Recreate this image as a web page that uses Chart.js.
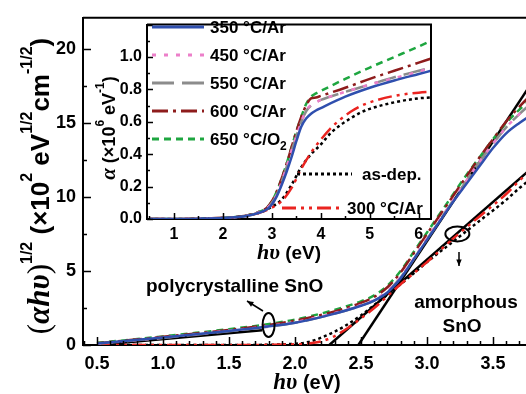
<!DOCTYPE html>
<html>
<head>
<meta charset="utf-8">
<script src="https://cdn.jsdelivr.net/npm/chart.js@4.4.1/dist/chart.umd.min.js"></script>
<style>
  body { margin: 0; background: #fff; }
  #wrap { position: relative; width: 526px; height: 394px; overflow: hidden; }
  #inset { position: absolute; left: 88px; top: 10px; }
</style>
</head>
<body>
<div id="wrap">
  <canvas id="mainChart" width="526" height="394"></canvas>
  <canvas id="inset" width="350" height="260"></canvas>
</div>
<script>
// ---- main plot: (alpha*h*nu)^1/2 vs photon energy ----
const mainE = [0.5, 0.75, 1.0, 1.25, 1.5, 1.75, 2.0, 2.25, 2.5, 2.6, 2.7, 2.8, 2.9, 3.0, 3.1, 3.2, 3.3, 3.4, 3.5, 3.6, 3.7, 3.8];
const main350 = [0.1, 0.3, 0.5, 0.72, 0.95, 1.2, 1.5, 2.0, 2.65, 3.0, 3.55, 4.5, 5.8, 7.1, 8.4, 9.7, 10.9, 12.1, 13.3, 14.3, 15.0, 15.6];
const main450 = [0.1, 0.3, 0.5, 0.73, 0.97, 1.22, 1.55, 2.05, 2.7, 3.05, 3.65, 4.6, 5.85, 7.2, 8.5, 9.8, 11.1, 12.4, 13.6, 14.7, 15.6, 16.3];
const main550 = [0.08, 0.28, 0.48, 0.7, 0.93, 1.18, 1.5, 2.0, 2.65, 3.0, 3.6, 4.55, 5.8, 7.15, 8.45, 9.8, 11.1, 12.4, 13.6, 14.7, 15.6, 16.4];
const main600 = [0.12, 0.33, 0.55, 0.78, 1.02, 1.3, 1.65, 2.15, 2.85, 3.25, 3.9, 4.9, 6.2, 7.5, 8.8, 10.1, 11.4, 12.7, 13.9, 15.1, 16.1, 17.0];
const main650 = [0.15, 0.35, 0.58, 0.82, 1.07, 1.35, 1.72, 2.25, 2.95, 3.35, 4.0, 5.0, 6.3, 7.6, 8.9, 10.2, 11.5, 12.7, 13.9, 15.0, 15.9, 16.7];

const amorphE = [0.5, 1.0, 1.5, 2.0, 2.1, 2.2, 2.3, 2.4, 2.5, 2.6, 2.7, 2.8, 2.9, 3.0, 3.2, 3.4, 3.6, 3.7, 3.8];
const main300 = [0, 0, 0, 0.05, 0.1, 0.25, 0.6, 1.15, 1.8, 2.5, 3.3, 4.1, 4.85, 5.6, 7.2, 8.7, 10.2, 11.1, 11.9];
const mainAsDep = [0, 0, 0, 0.08, 0.2, 0.5, 0.9, 1.4, 2.0, 2.7, 3.4, 4.1, 4.85, 5.6, 7.0, 8.4, 9.8, 10.6, 11.3];

// straight tangent lines (two end points each)
const fitPolyE = [0.5, 1.75], fitPolyV = [0, 1.0];
const fitSteepE = [2.48, 3.8], fitSteepV = [0, 17.8];
const fitAmorphE = [2.26, 3.8], fitAmorphV = [0, 12.0];

const mainXTicks = [0.5, 1.0, 1.5, 2.0, 2.5, 3.0, 3.5];
const mainYTicks = [0, 5, 10, 15, 20];

// ---- inset: alpha vs photon energy ----
const insE = [0.5, 1.0, 1.5, 2.0, 2.3, 2.5, 2.7, 2.9, 3.0, 3.1, 3.2, 3.3, 3.4, 3.5, 3.6, 3.7, 3.8, 3.9, 4.0, 4.5, 5.0, 5.5, 6.0, 6.25];
const ins350 = [0, 0, 0.002, 0.006, 0.012, 0.02, 0.035, 0.06, 0.09, 0.14, 0.21, 0.29, 0.38, 0.48, 0.57, 0.62, 0.65, 0.67, 0.685, 0.755, 0.81, 0.855, 0.895, 0.915];
const ins450 = [0, 0, 0.002, 0.006, 0.012, 0.02, 0.036, 0.065, 0.1, 0.15, 0.23, 0.32, 0.42, 0.51, 0.6, 0.67, 0.705, 0.72, 0.735, 0.785, 0.83, 0.87, 0.91, 0.935];
const ins550 = [0, 0, 0.002, 0.006, 0.012, 0.02, 0.036, 0.065, 0.1, 0.15, 0.23, 0.32, 0.42, 0.51, 0.6, 0.665, 0.7, 0.72, 0.735, 0.785, 0.83, 0.875, 0.915, 0.935];
const ins600 = [0, 0, 0.002, 0.007, 0.014, 0.022, 0.04, 0.07, 0.11, 0.17, 0.25, 0.34, 0.44, 0.54, 0.63, 0.7, 0.745, 0.75, 0.76, 0.81, 0.865, 0.915, 0.965, 0.99];
const ins650 = [0, 0, 0.002, 0.007, 0.014, 0.022, 0.04, 0.07, 0.11, 0.17, 0.25, 0.34, 0.44, 0.54, 0.63, 0.71, 0.755, 0.775, 0.79, 0.865, 0.935, 1.0, 1.065, 1.1];

const insAmE = [0.5, 1.0, 1.5, 2.0, 2.5, 2.8, 3.0, 3.2, 3.4, 3.6, 3.8, 4.0, 4.2, 4.4, 4.6, 4.8, 5.0, 5.5, 6.0, 6.25];
const ins300 = [0, 0, 0.002, 0.006, 0.02, 0.045, 0.07, 0.11, 0.19, 0.31, 0.41, 0.49, 0.56, 0.615, 0.66, 0.695, 0.72, 0.76, 0.78, 0.785];
const insAsDep = [0, 0, 0.002, 0.006, 0.02, 0.045, 0.075, 0.12, 0.21, 0.32, 0.40, 0.46, 0.53, 0.58, 0.62, 0.655, 0.68, 0.72, 0.745, 0.75];

const insXTicks = [1, 2, 3, 4, 5, 6];
const insYTicks = [0, 0.2, 0.4, 0.6, 0.8, 1.0];

// series styles
const series = {
  s350: { label: '350 °C/Ar', color: '#2f4fae', dash: [] },
  s450: { label: '450 °C/Ar', color: '#ec7fc9', dash: [4, 8] },
  s550: { label: '550 °C/Ar', color: '#8c8c8c', dash: [22, 8] },
  s600: { label: '600 °C/Ar', color: '#8e1c1c', dash: [16, 5, 3, 5] },
  s650: { label: '650 °C/O2', color: '#1ea640', dash: [7, 5] },
  asdep: { label: 'as-dep.', color: '#000000', dash: [3, 3] },
  s300: { label: '300 °C/Ar', color: '#ea2420', dash: [14, 5, 3, 5, 3, 5] },
};

const SANS = '"Liberation Sans", Arial, sans-serif';
const SERIF = '"Liberation Serif", "Times New Roman", serif';

function pts(xs, ys) {
  return xs.map((x, i) => ({ x: x, y: ys[i] }));
}

function curve(key, xs, ys, width) {
  const s = series[key];
  return {
    label: s.label,
    data: pts(xs, ys),
    borderColor: s.color,
    borderDash: s.dash,
    borderWidth: width,
    pointRadius: 0,
    fill: false,
    cubicInterpolationMode: 'monotone',
  };
}

function fitLine(xs, ys) {
  return { label: 'fit', data: pts(xs, ys), borderColor: '#000', borderWidth: 2.5, pointRadius: 0, fill: false };
}

// draw inward major/minor ticks along the bottom and left axes
function drawTicks(chart, xStep, yStep, xMinor, yMinor, majLen, minLen) {
  const { ctx, chartArea: a, scales: { x, y } } = chart;
  ctx.save();
  ctx.strokeStyle = '#000';
  ctx.lineWidth = 1.5;
  ctx.beginPath();
  for (let v = Math.ceil(x.min / xMinor - 1e-6) * xMinor; v <= x.max + 1e-6; v += xMinor) {
    const px = Math.round(x.getPixelForValue(v)) + 0.5;
    const isMaj = Math.abs(v / xStep - Math.round(v / xStep)) < 1e-6;
    ctx.moveTo(px, a.bottom);
    ctx.lineTo(px, a.bottom - (isMaj ? majLen : minLen));
  }
  for (let v = Math.ceil(y.min / yMinor - 1e-6) * yMinor; v <= y.max + 1e-6; v += yMinor) {
    const py = Math.round(y.getPixelForValue(v)) + 0.5;
    const isMaj = Math.abs(v / yStep - Math.round(v / yStep)) < 1e-6;
    ctx.moveTo(a.left, py);
    ctx.lineTo(a.left + (isMaj ? majLen : minLen), py);
  }
  ctx.stroke();
  ctx.restore();
}

// rich text: list of [text, font, dy]
function richWidth(ctx, parts) {
  let w = 0;
  parts.forEach(p => { ctx.font = p[1]; w += ctx.measureText(p[0]).width; });
  return w;
}
function drawRich(ctx, parts, x, y) {
  let cx = x;
  ctx.textBaseline = 'alphabetic';
  ctx.textAlign = 'left';
  parts.forEach(p => {
    ctx.font = p[1];
    ctx.fillText(p[0], cx, y + (p[2] || 0));
    cx += ctx.measureText(p[0]).width;
  });
}
function drawRichCentered(ctx, parts, cx, y) {
  drawRich(ctx, parts, cx - richWidth(ctx, parts) / 2, y);
}

const mainDecor = {
  id: 'mainDecor',
  afterDraw(chart) {
    const { ctx, chartArea: a, scales: { x, y } } = chart;
    drawTicks(chart, 0.5, 5, 0.1, 2.5, 8, 4);
    ctx.save();
    ctx.fillStyle = '#000';
    ctx.strokeStyle = '#000';
    // top frame line
    ctx.lineWidth = 2;
    ctx.beginPath();
    ctx.moveTo(a.left, a.top);
    ctx.lineTo(a.right, a.top);
    ctx.stroke();

    // ellipses marking the two regions
    ctx.lineWidth = 2;
    ctx.beginPath();
    ctx.ellipse(x.getPixelForValue(1.8), y.getPixelForValue(1.35), 6, 12, 0, 0, Math.PI * 2);
    ctx.stroke();
    ctx.beginPath();
    ctx.ellipse(x.getPixelForValue(3.23), y.getPixelForValue(7.5), 12, 7.5, 0, 0, Math.PI * 2);
    ctx.stroke();

    // arrows
    function arrow(x0, y0, x1, y1) {
      ctx.lineWidth = 1.5;
      ctx.beginPath();
      ctx.moveTo(x0, y0);
      ctx.lineTo(x1, y1);
      ctx.stroke();
      const ang = Math.atan2(y1 - y0, x1 - x0);
      ctx.beginPath();
      ctx.moveTo(x1, y1);
      ctx.lineTo(x1 - 7 * Math.cos(ang - 0.4), y1 - 7 * Math.sin(ang - 0.4));
      ctx.lineTo(x1 - 7 * Math.cos(ang + 0.4), y1 - 7 * Math.sin(ang + 0.4));
      ctx.closePath();
      ctx.fill();
    }
    arrow(263, 311, 247, 301);
    arrow(459, 252, 459, 266);

    // annotations
    ctx.font = 'bold 19px ' + SANS;
    ctx.textAlign = 'left';
    ctx.textBaseline = 'alphabetic';
    ctx.fillText('polycrystalline SnO', 146, 292);
    ctx.textAlign = 'center';
    ctx.fillText('amorphous', 466, 308);
    ctx.fillText('SnO', 462, 332);

    // x title
    drawRichCentered(ctx, [
      ['h', 'italic bold 23px ' + SERIF],
      ['υ', 'italic bold 23px ' + SERIF],
      [' (eV)', 'bold 20px ' + SANS],
    ], 307, 389);

    // y title, rotated
    ctx.save();
    ctx.translate(49, 186);
    ctx.rotate(-Math.PI / 2);
    const sup = 'bold 16px ' + SANS;
    const big = 'bold 26px ' + SANS;
    drawRichCentered(ctx, [
      ['(', '31px ' + SERIF],
      ['αhυ', 'italic bold 31px ' + SERIF],
      [')', '31px ' + SERIF],
      ['1/2', sup, -17],
      [' (×10', big],
      ['2', sup, -17],
      [' eV', big],
      ['1/2', sup, -17],
      ['cm', big],
      ['-1/2', sup, -17],
      [')', big],
    ], 0, 0);
    ctx.restore();
    ctx.restore();
  }
};

const mainCtx = document.getElementById('mainChart').getContext('2d');
const mainChart = new Chart(mainCtx, {
  type: 'line',
  data: {
    datasets: [
      curve('s350', mainE, main350, 2.5),
      curve('s450', mainE, main450, 2.5),
      curve('s550', mainE, main550, 2.5),
      curve('s600', mainE, main600, 2.5),
      curve('s650', mainE, main650, 2.5),
      curve('s300', amorphE, main300, 2.5),
      curve('asdep', amorphE, mainAsDep, 2.5),
      fitLine(fitPolyE, fitPolyV),
      fitLine(fitSteepE, fitSteepV),
      fitLine(fitAmorphE, fitAmorphV),
    ]
  },
  options: {
    responsive: false,
    animation: false,
    devicePixelRatio: 1,
    layout: { padding: { top: 13, right: 0, left: 0, bottom: 0 } },
    plugins: { legend: { display: false }, tooltip: { enabled: false } },
    scales: {
      x: {
        type: 'linear', min: 0.394, max: 3.75,
        afterBuildTicks: s => { s.ticks = mainXTicks.map(v => ({ value: v })); },
        afterFit: s => { s.height = 49; },
        grid: { display: false, drawTicks: false },
        border: { display: true, color: '#000', width: 2 },
        ticks: { color: '#000', padding: 8, font: { family: SANS, size: 18, weight: 'bold' }, callback: v => v.toFixed(1), maxRotation: 0 },
      },
      y: {
        type: 'linear', min: 0, max: 22.1,
        afterBuildTicks: s => { s.ticks = mainYTicks.map(v => ({ value: v })); },
        afterFit: s => { s.width = 83; },
        grid: { display: false, drawTicks: false },
        border: { display: true, color: '#000', width: 2 },
        ticks: { color: '#000', padding: 7, font: { family: SANS, size: 18, weight: 'bold' }, callback: v => String(v) },
      }
    }
  },
  plugins: [mainDecor]
});

// ---- inset ----
const insetDecor = {
  id: 'insetDecor',
  beforeDraw(chart) {
    const { ctx, chartArea: a } = chart;
    ctx.save();
    ctx.fillStyle = '#fff';
    ctx.fillRect(a.left, a.top, a.right - a.left, a.bottom - a.top);
    ctx.restore();
  },
  afterDraw(chart) {
    const { ctx, chartArea: a } = chart;
    drawTicks(chart, 1, 0.2, 0.5, 0.1, 6, 3);
    ctx.save();
    ctx.strokeStyle = '#000';
    ctx.fillStyle = '#000';
    ctx.lineWidth = 2;
    ctx.beginPath();
    ctx.moveTo(a.left, a.top);
    ctx.lineTo(a.right, a.top);
    ctx.lineTo(a.right, a.bottom);
    ctx.stroke();

    // legend, read from the datasets
    const ds = chart.data.datasets;
    function legendRow(d, x0, x1, yRow, tx, textParts) {
      ctx.save();
      ctx.strokeStyle = d.borderColor;
      ctx.lineWidth = 3;
      ctx.setLineDash(d.borderDash || []);
      ctx.beginPath();
      ctx.moveTo(x0, yRow);
      ctx.lineTo(x1, yRow);
      ctx.stroke();
      ctx.restore();
      ctx.fillStyle = '#000';
      drawRich(ctx, textParts, tx, yRow + 6);
    }
    const lf = 'bold 17px ' + SANS;
    const rows = [17, 45, 73, 101, 129];
    for (let i = 0; i < 5; i++) {
      const lbl = ds[i].label;
      const parts = lbl.endsWith('O2') ? [[lbl.slice(0, -1), lf], ['2', 'bold 12px ' + SANS, 5]] : [[lbl, lf]];
      legendRow(ds[i], 64, 116, rows[i], 122, parts);
    }
    legendRow(ds[6], 209, 264, 164, 274, [[ds[6].label, lf]]);
    legendRow(ds[5], 194, 252, 198, 259, [[ds[5].label, lf]]);

    // x title
    drawRichCentered(ctx, [
      ['h', 'italic bold 22px ' + SERIF],
      ['υ', 'italic bold 22px ' + SERIF],
      [' (eV)', 'bold 19px ' + SANS],
    ], (a.left + a.right) / 2, 249);

    // y title, rotated
    ctx.save();
    ctx.translate(27, 118);
    ctx.rotate(-Math.PI / 2);
    const f = 'bold 18px ' + SANS;
    const s = 'bold 12px ' + SANS;
    drawRichCentered(ctx, [
      ['α', 'italic bold 21px ' + SERIF],
      [' (×10', f],
      ['6', s, -11],
      [' eV', f],
      ['-1', s, -11],
      [')', f],
    ], 0, 0);
    ctx.restore();
    ctx.restore();
  }
};

const insCtx = document.getElementById('inset').getContext('2d');
const insetChart = new Chart(insCtx, {
  type: 'line',
  data: {
    datasets: [
      curve('s350', insE, ins350, 2.5),
      curve('s450', insE, ins450, 2.5),
      curve('s550', insE, ins550, 2.5),
      curve('s600', insE, ins600, 2.5),
      curve('s650', insE, ins650, 2.5),
      curve('s300', insAmE, ins300, 2.5),
      curve('asdep', insAmE, insAsDep, 2.5),
    ]
  },
  options: {
    responsive: false,
    animation: false,
    devicePixelRatio: 1,
    layout: { padding: { top: 10, right: 7, left: 0, bottom: 0 } },
    plugins: { legend: { display: false }, tooltip: { enabled: false } },
    scales: {
      x: {
        type: 'linear', min: 0.45, max: 6.25,
        afterBuildTicks: s => { s.ticks = insXTicks.map(v => ({ value: v })); },
        afterFit: s => { s.height = 51; },
        grid: { display: false, drawTicks: false },
        border: { display: true, color: '#000', width: 2 },
        ticks: { color: '#000', padding: 6, font: { family: SANS, size: 16, weight: 'bold' }, callback: v => String(v), maxRotation: 0 },
      },
      y: {
        type: 'linear', min: 0, max: 1.2,
        afterBuildTicks: s => { s.ticks = insYTicks.map(v => ({ value: v })); },
        afterFit: s => { s.width = 59; },
        grid: { display: false, drawTicks: false },
        border: { display: true, color: '#000', width: 2 },
        ticks: { color: '#000', padding: 5, font: { family: SANS, size: 16, weight: 'bold' }, callback: v => v.toFixed(1) },
      }
    }
  },
  plugins: [insetDecor]
});
</script>
</body>
</html>
